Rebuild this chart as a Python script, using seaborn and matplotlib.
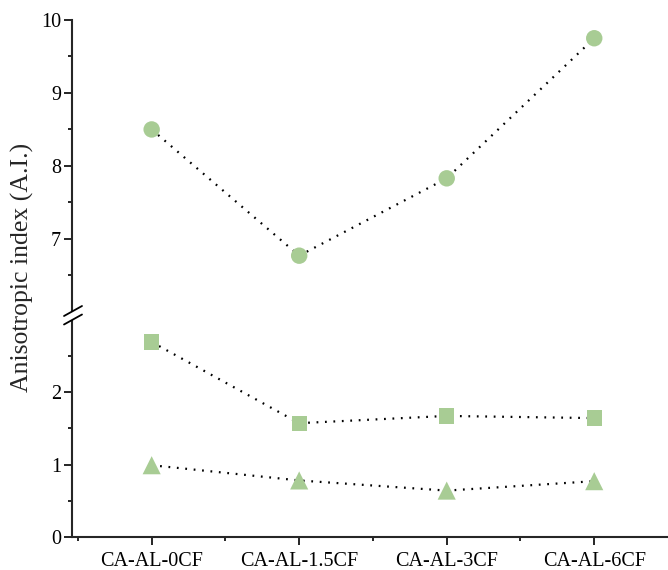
import numpy as np
import pandas as pd
import matplotlib
matplotlib.use('Agg')
import matplotlib.pyplot as plt
from matplotlib.lines import Line2D
import seaborn as sns

# Data
samples = ['CA-AL-0CF', 'CA-AL-1.5CF', 'CA-AL-3CF', 'CA-AL-6CF']
circle_vals = [8.50, 6.77, 7.83, 9.75]
square_vals = [2.69, 1.57, 1.67, 1.64]
triangle_vals = [0.99, 0.78, 0.64, 0.77]

green = '#a8cc94'

sns.set_theme(style='ticks')
plt.rcParams['font.family'] = ['Liberation Serif', 'DejaVu Serif']
plt.rcParams['axes.linewidth'] = 1.5

x = np.arange(len(samples))
df = pd.DataFrame({
    'x': np.tile(x, 3),
    'value': circle_vals + square_vals + triangle_vals,
    'series': ['circle'] * 4 + ['square'] * 4 + ['triangle'] * 4,
})

fig = plt.figure(figsize=(6.68, 5.70), dpi=100)
W, H = 668, 570
left = 72 / W
y_zero, y_top = 537, 20
lo_top_px = 537 - 3.055 * 72.5
ax_up = fig.add_axes([left, 1 - lo_top_px / H, 1 - left, (lo_top_px - y_top) / H])
ax_lo = fig.add_axes([left, 1 - y_zero / H, 1 - left, (y_zero - lo_top_px) / H])

markers = {'circle': ('o', 140, ax_up), 'square': ('s', 120, ax_lo),
           'triangle': ('^', 170, ax_lo)}
for name, (m, s, ax) in markers.items():
    d = df[df['series'] == name]
    sns.lineplot(data=d, x='x', y='value', ax=ax, color='black',
                 linestyle=(0, (0.8, 3)), linewidth=1.6, zorder=2)
    sns.scatterplot(data=d, x='x', y='value', ax=ax, marker=m, s=s,
                    color=green, edgecolor='none', zorder=3, clip_on=False)

for ax in (ax_up, ax_lo):
    ax.set_xlim(-0.54, 3.5)
    ax.set_xlabel('')
    ax.set_ylabel('')
    sns.despine(ax=ax)

ax_up.set_ylim(5.95, 10)
ax_up.set_yticks([7, 8, 9, 10])
ax_up.set_yticks([6.5, 7.5, 8.5, 9.5], minor=True)
ax_up.spines['bottom'].set_visible(False)
ax_up.spines['left'].set_bounds(6.02, 10)
ax_up.tick_params(axis='x', which='both', bottom=False, labelbottom=False)

ax_lo.set_ylim(0, 3.055)
ax_lo.set_yticks([0, 1, 2])
ax_lo.set_yticks([0.5, 1.5, 2.5], minor=True)
ax_lo.spines['left'].set_bounds(0, 2.98)
ax_lo.set_xticks(x)
ax_lo.set_xticklabels(samples)
ax_lo.set_xticks([-0.5, 0.5, 1.5, 2.5], minor=True)

for ax in (ax_up, ax_lo):
    ax.tick_params(axis='both', which='major', length=6, width=1.2,
                   labelsize=14.5, color='black', labelcolor='black')
    ax.tick_params(axis='both', which='minor', length=3, width=1.2, color='black')
    ax.tick_params(axis='y', which='major', pad=2)
    ax.tick_params(axis='x', which='major', pad=5)
    ax.set_facecolor('white')

# axis break marks
for yc in (311, 319.5):
    fig.add_artist(Line2D([64 / W, 82 / W], [1 - (yc + 5) / H, 1 - (yc - 5) / H],
                          transform=fig.transFigure, color='black', lw=1.3))

fig.text(22 / W, 1 - 267 / H, 'Anisotropic index (A.I.)', rotation=90,
         ha='center', va='center', fontsize=18.5)

fig.savefig('out.png', dpi=100)
